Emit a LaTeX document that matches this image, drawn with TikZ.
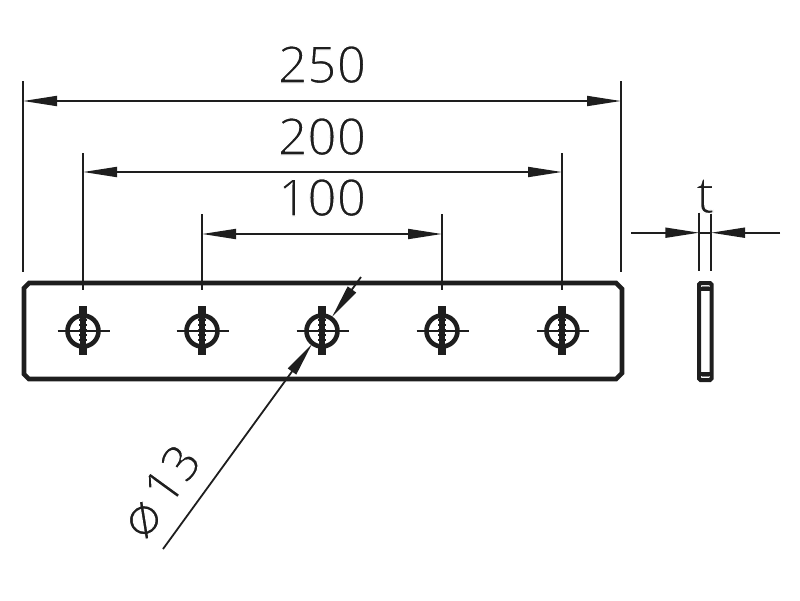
\documentclass[tikz,border=0pt]{standalone}
\usepackage{fontspec}
\newfontfamily\digitfont{Open Sans}
\newfontfamily\symfont{DejaVu Sans}
\usetikzlibrary{arrows.meta}
\definecolor{ink}{HTML}{1E1E1E}
\newcommand{\thinglyph}[1]{\special{pdf:code q 2 Tr 1 1 1 RG 1.2 w}#1\special{pdf:code Q}}
\tikzset{
  ext/.style={draw=ink,line width=1.7pt},
  dim/.style={draw=ink,line width=1.8pt},
  tip/.style={-{Triangle[length=34pt,width=10pt]}},
  both/.style={{Triangle[length=34pt,width=10pt]}-{Triangle[length=34pt,width=10pt]}},
  outline/.style={draw=ink,line width=4.6pt,line join=miter},
  dimtext/.style={inner sep=0pt,text=ink,font=\digitfont\fontsize{51.5}{51.5}\selectfont}
}
\begin{document}
\begin{tikzpicture}[x=1pt,y=-1pt]
\useasboundingbox (0,0) rectangle (800,600);
% plate
\draw[outline] (29,283) -- (616,283) -- (622,289) -- (622,373) -- (616,379) -- (29,379) -- (24,374) -- (24,288) -- cycle;
% holes
\foreach \n/\hx in {a/83,b/202,c/322,d/442,e/562}{
  \coordinate (hole\n) at (\hx,331);
  \draw[ink,line width=4.6pt] (hole\n) circle (15.5);
  \draw[ink,line width=1.8pt] ([xshift=-25.5pt]hole\n) -- ([xshift=26.5pt]hole\n);
  \draw[ink,line width=8pt] ([yshift=-23.5pt]hole\n) -- ([yshift=-14pt]hole\n);
  \draw[ink,line width=8pt] ([yshift=14pt]hole\n) -- ([yshift=25pt]hole\n);
  \draw[ink,line width=6pt] ([yshift=-14pt]hole\n) -- ([yshift=14pt]hole\n);
  \foreach \s in {-9,-4,1,6,11}{
    \draw[ink,line width=2.2pt] ([xshift=-4pt,yshift=\s pt]hole\n) -- ([xshift=4pt,yshift=\s pt]hole\n);
  }
}
% dimension anchors
\coordinate (o1t) at (23,81);   \coordinate (o1b) at (23,271.5);
\coordinate (o2t) at (621,81);  \coordinate (o2b) at (621,271.5);
\coordinate (m1t) at (83,153);  \coordinate (m1b) at (83,290);
\coordinate (m2t) at (562,153); \coordinate (m2b) at (562,290);
\coordinate (i1t) at (202,214); \coordinate (i1b) at (202,290);
\coordinate (i2t) at (442,214); \coordinate (i2b) at (442,290);
\coordinate (l250a) at (23,101);  \coordinate (l250b) at (621,101);
\coordinate (l200a) at (83,172);\coordinate (l200b) at (562,172);
\coordinate (l100a) at (202,234); \coordinate (l100b) at (442,234);
\draw[ext] (o1t) -- (o1b);
\draw[ext] (o2t) -- (o2b);
\draw[ext] (m1t) -- (m1b);
\draw[ext] (m2t) -- (m2b);
\draw[ext] (i1t) -- (i1b);
\draw[ext] (i2t) -- (i2b);
\draw[dim,both] (l250a) -- (l250b);
\draw[dim,both] (l200a) -- (l200b);
\draw[dim,both] (l100a) -- (l100b);
\node[dimtext,anchor=base] (t250) at (322,83) {\thinglyph{250}};
\node[dimtext,anchor=base] (t200) at (322,155) {\thinglyph{200}};
\node[dimtext,anchor=base] (t100) at (322,216) {\thinglyph{100}};
% diameter leader
\coordinate (dtop) at (361,277);
\coordinate (dtip1) at (332,317);
\coordinate (dtip2) at (312,344);
\coordinate (dbot) at (163,549);
\draw[dim,tip] (dtop) -- (dtip1);
\draw[dim,tip] (dbot) -- (dtip2);
\node[dimtext,rotate=54,anchor=center] (dlabel) at (160,491) {{\symfont\fontsize{56}{56}\selectfont\thinglyph{⌀}}\hspace{7pt}\thinglyph{13}};
% side view
\draw[ink,line width=4pt,rounded corners=1.5pt] (699,283) rectangle (711.5,380);
\draw[ink,line width=4pt] (700,288.5) -- (711,288.5);
\draw[ink,line width=4pt] (700,374) -- (711,374);
\draw[ink!55,line width=1pt] (702,286.5) -- (709,286.5);
\draw[ink!55,line width=1pt] (702,376) -- (709,376);
% thickness dimension
\coordinate (s1t) at (699.3,212.5); \coordinate (s1b) at (699.3,271);
\coordinate (s2t) at (711,212.5);   \coordinate (s2b) at (711,271);
\coordinate (sl) at (631,232.7);    \coordinate (sr) at (780,232.7);
\coordinate (sa) at (699.3,232.7);  \coordinate (sb) at (711,232.7);
\draw[ext] (s1t) -- (s1b);
\draw[ext] (s2t) -- (s2b);
\draw[dim,tip] (sl) -- (sa);
\draw[dim,tip] (sr) -- (sb);
\draw[dim] (sa) -- (sb);
\node[dimtext,anchor=base] (tlabel) at (705,213) {\thinglyph{t}};
\end{tikzpicture}
\end{document}
